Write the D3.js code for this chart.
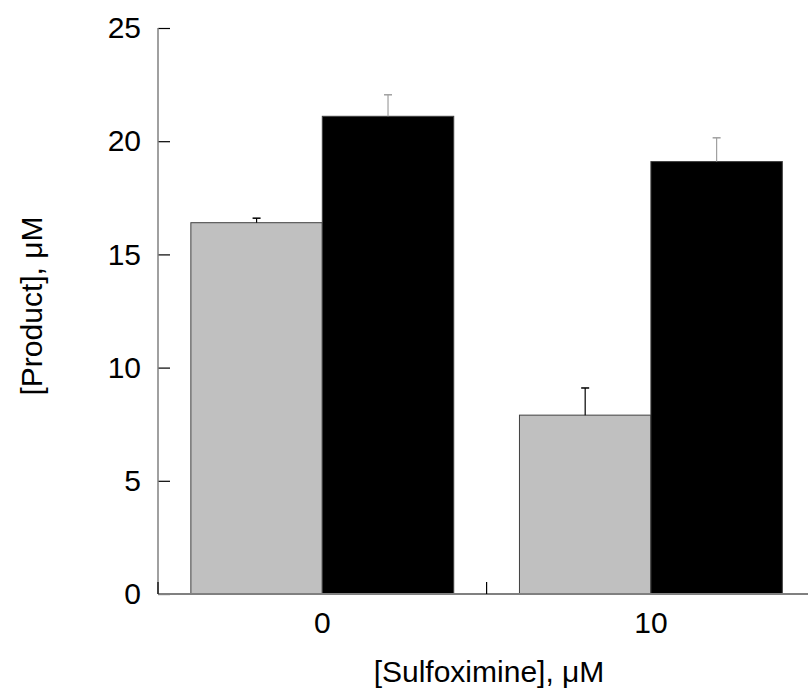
<!DOCTYPE html>
<html>
<head>
<meta charset="utf-8">
<script src="https://cdn.jsdelivr.net/npm/d3@7"></script>
<style>
  body { margin: 0; background: #fff; }
  svg { display: block; }
  text { font-family: "Liberation Sans", Arial, sans-serif; fill: #000; }
</style>
</head>
<body>
<svg id="chart" width="808" height="692"></svg>
<script>
const categories = ["0", "10"];
const series = ["gray", "black"];
const grayValues = [16.4, 7.9];
const grayErrors = [0.2, 1.2];
const blackValues = [21.1, 19.1];
const blackErrors = [0.95, 1.05];
const yTicks = [0, 5, 10, 15, 20, 25];
const xTitle = "[Sulfoximine], \u03BCM";
const yTitle = "[Product], \u03BCM";

(function () {
const svg = d3.select("#chart");
const mLeft = 158, mRight = 815.2, mTop = 28, mBottom = 594;
const fs = 30;

const x0 = d3.scaleBand().domain(categories).range([mLeft, mRight]).padding(0);
const bw = x0.bandwidth();
const x1 = d3.scaleBand().domain(series).range([bw * 0.1, bw * 0.9]).padding(0);
const y = d3.scaleLinear().domain([0, 25]).range([mBottom, mTop]);

const fills = { gray: "#c0c0c0", black: "#000000" };
const errColors = { gray: "#000000", black: "#a0a0a0" };
const data = [];
categories.forEach((c, i) => {
  data.push({ cat: c, s: "gray", v: grayValues[i], e: grayErrors[i] });
  data.push({ cat: c, s: "black", v: blackValues[i], e: blackErrors[i] });
});

// bars
svg.selectAll("rect.bar").data(data).enter().append("rect")
  .attr("class", "bar")
  .attr("x", d => x0(d.cat) + x1(d.s))
  .attr("y", d => y(d.v))
  .attr("width", x1.bandwidth())
  .attr("height", d => y(0) - y(d.v))
  .attr("fill", d => fills[d.s])
  .attr("stroke", "#404040")
  .attr("stroke-width", 1);

// error bars
const capW = 8;
data.forEach(d => {
  const cx = x0(d.cat) + x1(d.s) + x1.bandwidth() / 2;
  svg.append("line")
    .attr("x1", cx).attr("x2", cx)
    .attr("y1", y(d.v)).attr("y2", y(d.v + d.e))
    .attr("stroke", errColors[d.s]).attr("stroke-width", 1.2);
  svg.append("line")
    .attr("x1", cx - capW / 2).attr("x2", cx + capW / 2)
    .attr("y1", y(d.v + d.e)).attr("y2", y(d.v + d.e))
    .attr("stroke", errColors[d.s]).attr("stroke-width", 1.5);
});

// y axis
const yAxis = d3.axisRight(y).tickValues(yTicks).tickSize(12).tickFormat("");
const gy = svg.append("g").attr("transform", `translate(${mLeft},0)`).call(yAxis);
gy.select(".domain").remove();
gy.selectAll(".tick line").attr("stroke", "#000").attr("stroke-width", 1.2);
svg.append("line").attr("x1", mLeft).attr("x2", mLeft).attr("y1", mTop).attr("y2", mBottom)
  .attr("stroke", "#808080").attr("stroke-width", 1.5);
yTicks.forEach(t => {
  svg.append("text").attr("x", 141).attr("y", y(t)).attr("dy", "0.34em")
    .attr("text-anchor", "end").attr("font-size", fs).text(t);
});

// x axis
svg.append("line").attr("x1", mLeft).attr("x2", mRight).attr("y1", mBottom).attr("y2", mBottom)
  .attr("stroke", "#808080").attr("stroke-width", 2);
const edges = [mLeft, x0("10")];
edges.forEach(ex => {
  svg.append("line").attr("x1", ex).attr("x2", ex).attr("y1", mBottom).attr("y2", mBottom - 12)
    .attr("stroke", "#000").attr("stroke-width", 1.2);
});
categories.forEach(c => {
  svg.append("text").attr("x", x0(c) + bw / 2).attr("y", 633)
    .attr("text-anchor", "middle").attr("font-size", fs).text(c);
});

// titles
svg.append("text").attr("x", 489).attr("y", 682)
  .attr("text-anchor", "middle").attr("font-size", fs).text(xTitle);
svg.append("text").attr("transform", `translate(42,306) rotate(-90)`)
  .attr("text-anchor", "middle").attr("font-size", fs).text(yTitle);
})();
</script>
</body>
</html>
